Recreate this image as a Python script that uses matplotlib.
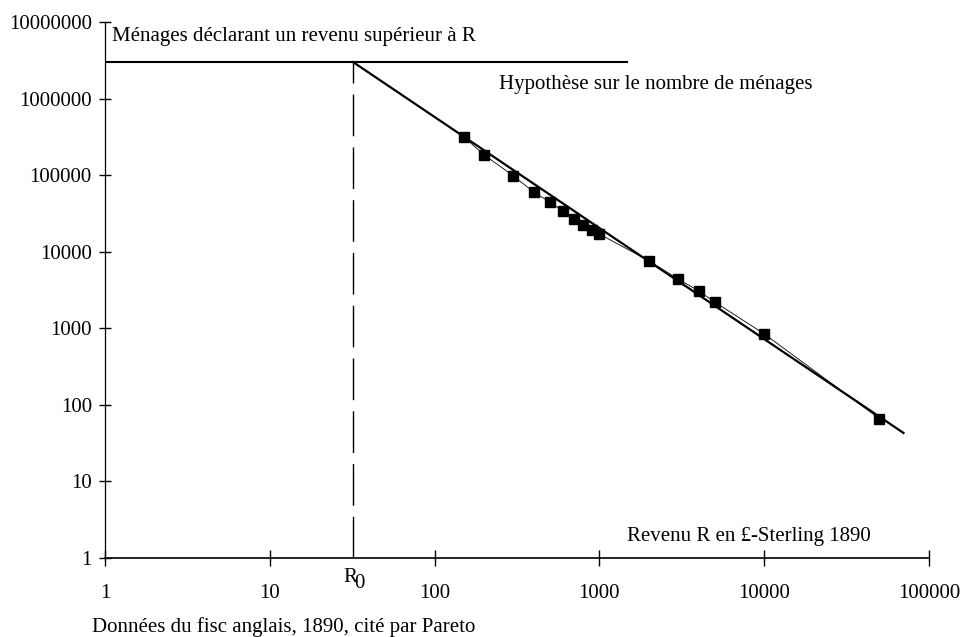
import matplotlib
matplotlib.use("Agg")
import matplotlib.pyplot as plt

plt.rcParams['font.family'] = ['Liberation Serif', 'DejaVu Serif']

# Pareto data: income R (GBP 1890) and households declaring more than R
income = [150, 200, 300, 400, 500, 600, 700, 800, 900, 1000,
          2000, 3000, 4000, 5000, 10000, 50000]
households = [316000, 184000, 98000, 60000, 44700, 34000, 26800, 22400, 19300, 17000,
              7600, 4400, 3080, 2210, 845, 66]

# hypothesis line, starting at R0
R0 = 32
N0 = 3000000
hyp_R = [R0, 70000]
hyp_N = [N0, 43]
flat_R = [1, 1500]

xticks = [1, 10, 100, 1000, 10000, 100000]
yticks = [1, 10, 100, 1000, 10000, 100000, 1000000, 10000000]

fig = plt.figure(figsize=(9.63, 6.37), dpi=100)
W, H = 963, 637
ax = fig.add_axes([105 / W, 1 - 558 / H, (929 - 105) / W, (558 - 22) / H])
ax.set_xscale('log')
ax.set_yscale('log')
ax.set_xlim(1, 100000)
ax.set_ylim(1, 10000000)

ax.plot(flat_R, [N0, N0], color='black', lw=1.5, solid_capstyle='butt')
ax.plot([R0, R0], [1, N0], color='black', lw=1.0, dashes=(30, 8))
ax.plot(hyp_R, hyp_N, color='black', lw=1.6)
ax.plot(income, households, color='black', lw=0.6, marker='s', markersize=6.5)

for s in ['top', 'right']:
    ax.spines[s].set_visible(False)
ax.spines['left'].set_linewidth(0.9)
ax.spines['bottom'].set_linewidth(1.2)

ax.set_xticks(xticks)
ax.set_xticklabels([str(v) for v in xticks])
ax.set_yticks(yticks)
ax.set_yticklabels([str(v) for v in yticks])
ax.minorticks_off()
ax.tick_params(axis='x', direction='inout', length=11, width=1, labelsize=15, pad=13)
ax.tick_params(axis='y', direction='inout', length=9, width=1, labelsize=15, pad=5)
ax.set_facecolor('none')


def ftext(x, y, s, **kw):
    fig.text(x / W, 1 - y / H, s, fontsize=15, va='center', **kw)


ftext(112, 37, u'Ménages déclarant un revenu supérieur à R', ha='left')
ftext(499, 84, u'Hypothèse sur le nombre de ménages', ha='left')
ftext(627, 537, u'Revenu R en £-Sterling 1890', ha='left')
ftext(350, 577, 'R', ha='center')
ftext(359, 584, '0', ha='center')
ftext(92, 627, u'Données du fisc anglais, 1890, cité par Pareto', ha='left')

fig.savefig('out.png', dpi=100)
